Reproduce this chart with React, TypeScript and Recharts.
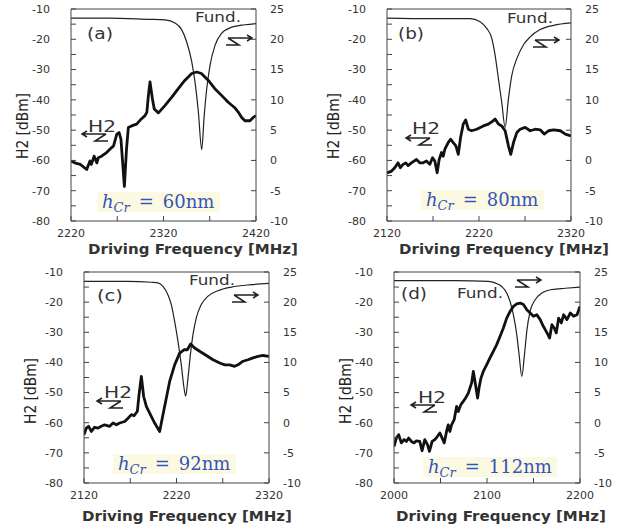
import React from 'react';
import { LineChart, Line, XAxis, YAxis, ReferenceLine } from 'recharts';

// (a) h_Cr = 60nm
const h2FreqA = [2220, 2224, 2230, 2237, 2240.5, 2242, 2245, 2248, 2249.5, 2253, 2258.5, 2262, 2266, 2269.5, 2272, 2274, 2277.7, 2280, 2282, 2285.5, 2291, 2296, 2300, 2302, 2303.5, 2305.4, 2308, 2310, 2314.5, 2321.5, 2329, 2336, 2343, 2350.5, 2356, 2361, 2368.5, 2375.5, 2383, 2390, 2397, 2401, 2404.5, 2408, 2413.5, 2417, 2420];
const h2A = [-60.2, -60.8, -61.3, -63, -60.2, -61.3, -58.6, -60.8, -59.1, -58.6, -57.4, -56.3, -55.2, -51.3, -50.8, -53, -68.6, -56.3, -49.1, -48.6, -48, -46.3, -45.2, -44.1, -39.1, -34.1, -39.6, -43, -44.3, -41.9, -39.1, -36.3, -33.6, -31.3, -30.8, -31.3, -33.6, -36.3, -38.6, -40.8, -42.6, -44.1, -45.8, -46.9, -46.9, -45.8, -45.2];
const fundFreqA = [2220, 2260, 2303.6, 2321.6, 2332.4, 2339.6, 2345, 2350.5, 2354, 2357.7, 2361.3, 2364, 2366.7, 2370.3, 2375.7, 2383, 2393.7, 2408, 2420];
const fundA = [23.5, 23.5, 23.3, 23.2, 22.7, 21.6, 19.6, 16.3, 13, 8, 1.8, 7.4, 11.8, 15.7, 19, 21, 22, 22.4, 22.6];

// (b) h_Cr = 80nm
const h2FreqB = [2120, 2124.7, 2128.4, 2132, 2134.5, 2137.5, 2140.4, 2142.9, 2146.5, 2152, 2155.6, 2159.3, 2162.9, 2166.5, 2169.5, 2172, 2174.5, 2176.7, 2179.3, 2181.1, 2182.9, 2186.5, 2189.1, 2192, 2194.9, 2197.5, 2200, 2202.9, 2205.5, 2208.4, 2212, 2217.5, 2224.7, 2230.2, 2235.6, 2237.5, 2241.1, 2244.7, 2248.4, 2252, 2254.5, 2257.5, 2261.1, 2264.7, 2270.2, 2275.6, 2281.1, 2286.5, 2290.9, 2295.6, 2301.1, 2308.4, 2313.8, 2320];
const h2B = [-64.1, -63.6, -62.4, -60.8, -62.4, -61.3, -60.8, -61.7, -60.8, -59.7, -60.8, -60.8, -60.2, -61.3, -59.1, -60.2, -64.1, -59.7, -57.4, -58.6, -56.3, -54.1, -53, -54.1, -55.2, -58, -52.4, -48, -46.6, -49.7, -50.2, -49.7, -48.6, -48, -46.9, -46.3, -48, -48.6, -50.2, -55.2, -58, -54.1, -50.8, -49.7, -49.1, -50.2, -49.7, -49.9, -51.3, -50.2, -49.9, -50.2, -51.3, -51.9];
const fundFreqB = [2120, 2166.5, 2210.2, 2221.1, 2228.4, 2233.8, 2237.5, 2241.1, 2244.7, 2248.4, 2252, 2255.6, 2261.1, 2268.4, 2275.6, 2286.5, 2301.1, 2320];
const fundB = [23.5, 23.4, 23.4, 22.9, 21.8, 20.2, 17.4, 13.5, 9.6, 5.5, 10.2, 14, 16.8, 19.1, 20.4, 21.6, 22.3, 22.7];

// (c) h_Cr = 92nm
const h2FreqC = [2120, 2122.5, 2125, 2127.9, 2131.5, 2135.1, 2138.7, 2142.3, 2147.7, 2151.4, 2155, 2158.6, 2164, 2167.6, 2171.2, 2174.1, 2177.7, 2179.5, 2182, 2184.5, 2187.4, 2191, 2196.4, 2201.8, 2205.4, 2209, 2212.6, 2218, 2223.4, 2228.1, 2231.7, 2235.3, 2239.6, 2245, 2252.3, 2259.5, 2266.7, 2272.1, 2277.5, 2282.9, 2286.5, 2291.9, 2297.3, 2302.7, 2308.1, 2313.5, 2320];
const h2C = [-64, -61.8, -61.2, -62.9, -61.5, -61.8, -61.2, -60.7, -61.2, -60.1, -60.7, -60.1, -59.6, -58.5, -57.3, -57.7, -56.2, -50.7, -44.6, -51.3, -54.6, -56.8, -60.1, -62.9, -57.3, -51.8, -46.3, -40.8, -36.9, -35.8, -35.8, -33.9, -35.2, -36.3, -37.7, -39.1, -40.2, -40.8, -40.8, -41.3, -40.8, -39.6, -39.1, -38.5, -38, -37.7, -38];
const fundFreqC = [2120, 2167.6, 2192.8, 2200, 2205.4, 2210.8, 2214.4, 2218, 2221.6, 2225.2, 2228.1, 2229.9, 2232.4, 2235, 2237.8, 2241.4, 2246.8, 2254.1, 2264.9, 2279.3, 2300.9, 2320];
const fundC = [23.45, 23.45, 23.3, 23.2, 22.6, 21.2, 19.6, 16.8, 13.5, 9.6, 5.8, 4.4, 7.4, 11.3, 14.6, 17.4, 19.6, 21, 21.9, 22.5, 22.9, 23.1];

// (d) h_Cr = 112nm
const h2FreqD = [2000, 2002.5, 2005, 2007.9, 2010.8, 2013.3, 2015.8, 2018.7, 2021.6, 2024.1, 2027.7, 2030.2, 2033.1, 2036, 2038.1, 2041, 2043.9, 2046.8, 2049.3, 2051.8, 2054, 2056.5, 2058.3, 2060.1, 2061.9, 2064.7, 2067.3, 2069.1, 2071.9, 2074.5, 2077, 2079.9, 2081.7, 2083.5, 2085.3, 2087.1, 2089.9, 2091.4, 2093.5, 2096, 2099.6, 2103.2, 2106.8, 2110.4, 2114, 2117.6, 2121.2, 2124.8, 2128.4, 2132, 2135.6, 2139.2, 2142.8, 2146.4, 2150, 2153.6, 2157.2, 2159.7, 2162.6, 2165.5, 2167.3, 2169.8, 2172.3, 2174.5, 2177, 2179.9, 2182.4, 2186, 2189.6, 2193.2, 2196.8, 2200];
const h2D = [-67.9, -65.1, -64, -66.7, -65.6, -66.2, -65.1, -66.2, -66.7, -66, -66.2, -69.3, -65.6, -67.3, -69.5, -66.2, -65.6, -64.5, -63.4, -65.1, -66.7, -62.9, -60.7, -62.9, -60.7, -59, -54.6, -56.3, -54, -52.9, -51.8, -50.2, -48.5, -46.8, -43, -46.3, -51.8, -48.5, -45.2, -43, -40.8, -38.5, -36.3, -34.1, -31.4, -28.6, -25.3, -23.1, -21.4, -20.6, -20.3, -20.8, -22.5, -23.6, -24.7, -24.2, -25.8, -27.5, -29.1, -30.8, -31.9, -27.5, -28.6, -30.2, -25.3, -26.9, -24.2, -25.8, -23.6, -24.7, -24.2, -21.4];
const fundFreqD = [2000, 2065.5, 2101.4, 2108.6, 2115.8, 2121.2, 2124.8, 2128.4, 2132, 2134.5, 2137.4, 2140.3, 2142.8, 2146.4, 2151.8, 2159, 2169.8, 2184.2, 2200];
const fundD = [23.56, 23.56, 23.45, 23.2, 22.6, 21.5, 20.1, 17.9, 14.6, 11.3, 7.7, 11.3, 15.2, 18.5, 20.4, 21.5, 22.1, 22.3, 22.5];

const leftTicks = [-80, -75, -70, -65, -60, -55, -50, -45, -40, -35, -30, -25, -20, -15, -10];
const rightTicks = [-10, -5, 0, 5, 10, 15, 20, 25];

const zip = (xs: number[], ys: number[]) => xs.map((f, i) => ({ f, v: ys[i] }));

const AXIS = '#444';
const TEXT = '#333';
const BLUE = '#3354b8';
const tickStyle = { fill: TEXT, fontSize: 11, fontFamily: 'DejaVu Sans' };

const panels = [
  { id: 'a', plot: { x: 71, y: 9, w: 185, h: 212 }, domain: [2220, 2420], h2: zip(h2FreqA, h2A), fund: zip(fundFreqA, fundA),
    tag: [100, 33], fundTxt: [218, 17], rArrow: [252, 38], lArrow: [82, 134], h2Txt: [102, 126],
    hcr: '60nm', hcrAt: [102, 202], hcrW: 123, yTitle: [23, 126], xTitle: [193, 249] },
  { id: 'b', plot: { x: 387, y: 9, w: 184, h: 212 }, domain: [2120, 2320], h2: zip(h2FreqB, h2B), fund: zip(fundFreqB, fundB),
    tag: [411, 33], fundTxt: [530, 18], rArrow: [559, 40], lArrow: [406, 138], h2Txt: [426, 128],
    hcr: '80nm', hcrAt: [426, 200], hcrW: 123, yTitle: [334, 126], xTitle: [504, 249] },
  { id: 'c', plot: { x: 84, y: 272, w: 185, h: 211 }, domain: [2120, 2320], h2: zip(h2FreqC, h2C), fund: zip(fundFreqC, fundC),
    tag: [110, 295], fundTxt: [212, 280], rArrow: [258, 295], lArrow: [97, 401], h2Txt: [118, 392],
    hcr: '92nm', hcrAt: [118, 464], hcrW: 123, yTitle: [31, 391], xTitle: [187, 516] },
  { id: 'd', plot: { x: 394, y: 272, w: 186, h: 211 }, domain: [2000, 2200], h2: zip(h2FreqD, h2D), fund: zip(fundFreqD, fundD),
    tag: [414, 293], fundTxt: [480, 293], rArrow: [541, 280], lArrow: [411, 405], h2Txt: [432, 397],
    hcr: '112nm', hcrAt: [428, 467], hcrW: 134, yTitle: [346, 391], xTitle: [501, 516] },
];

const LW = 60; // left axis width
const RW = 45; // right axis width
const XH = 30; // x axis height
const TOP = 10;

const Panel = ({ p }: { p: (typeof panels)[number] }) => {
  const [x0, x1] = p.domain;
  const step = (x1 - x0) / 4;
  const xTicks = [0, 1, 2, 3, 4].map((i) => x0 + i * step);
  return (
    <div style={{ position: 'absolute', left: p.plot.x - LW, top: p.plot.y - TOP }}>
      <LineChart width={p.plot.w + LW + RW} height={p.plot.h + TOP + XH} margin={{ top: TOP, right: 0, bottom: 0, left: 0 }}>
        <XAxis
          dataKey="f"
          type="number"
          domain={p.domain}
          allowDataOverflow
          ticks={xTicks}
          interval={0}
          height={XH}
          tickSize={-5}
          tickMargin={13}
          stroke={AXIS}
          tick={tickStyle}
          tickFormatter={(v: number) => ((v - x0) % 100 === 0 ? String(v) : '')}
        />
        <YAxis
          yAxisId="left"
          domain={[-80, -10]}
          ticks={leftTicks}
          interval={0}
          width={LW}
          tickSize={-5}
          tickMargin={26}
          stroke={AXIS}
          tick={tickStyle}
          tickFormatter={(v: number) => (v % 10 === 0 ? String(v) : '')}
        />
        <YAxis
          yAxisId="right"
          orientation="right"
          domain={[-10, 25]}
          ticks={rightTicks}
          interval={0}
          width={RW}
          tickSize={-5}
          tickMargin={19}
          stroke={AXIS}
          tick={{ ...tickStyle, textAnchor: 'start' }}
        />
        <ReferenceLine yAxisId="left" y={-10} stroke={AXIS} />
        <Line yAxisId="right" data={p.fund} dataKey="v" type="monotone" stroke="#222" strokeWidth={1.2} dot={false} isAnimationActive={false} />
        <Line yAxisId="left" data={p.h2} dataKey="v" type="linear" stroke="#111" strokeWidth={2.8} dot={false} isAnimationActive={false} strokeLinejoin="round" />
      </LineChart>
    </div>
  );
};

const LeftArrow = ({ x, y }: { x: number; y: number }) => (
  <path
    d={`M${x + 24},${y} L${x},${y} M${x + 5},${y - 3} L${x},${y} L${x + 5},${y + 3} M${x + 24},${y} L${x + 13},${y + 7} L${x + 26},${y + 7}`}
    stroke="#222" strokeWidth={1.5} fill="none"
  />
);

const RightArrow = ({ x, y }: { x: number; y: number }) => (
  <path
    d={`M${x - 24},${y} L${x},${y} M${x - 5},${y - 3} L${x},${y} L${x - 5},${y + 3} M${x - 24},${y} L${x - 13},${y + 7} L${x - 26},${y + 7}`}
    stroke="#222" strokeWidth={1.5} fill="none"
  />
);

const Notes = ({ p }: { p: (typeof panels)[number] }) => (
  <g>
    <text x={p.tag[0]} y={p.tag[1]} textAnchor="middle" dominantBaseline="central" fontSize={16} fill={TEXT} fontFamily="DejaVu Sans" textLength={26} lengthAdjust="spacingAndGlyphs">
      ({p.id})
    </text>
    <text x={p.fundTxt[0]} y={p.fundTxt[1]} textAnchor="middle" dominantBaseline="central" fontSize={14} fill={TEXT} fontFamily="DejaVu Sans" textLength={46} lengthAdjust="spacingAndGlyphs">
      Fund.
    </text>
    <RightArrow x={p.rArrow[0]} y={p.rArrow[1]} />
    <text x={p.h2Txt[0]} y={p.h2Txt[1]} textAnchor="middle" dominantBaseline="central" fontSize={16} fill={TEXT} fontFamily="DejaVu Sans" textLength={28} lengthAdjust="spacingAndGlyphs">
      H2
    </text>
    <LeftArrow x={p.lArrow[0]} y={p.lArrow[1]} />
    <rect x={p.hcrAt[0] - 5} y={p.hcrAt[1] - 10} width={p.hcrW} height={20} fill="#fcf9e3" />
    <text x={p.hcrAt[0]} y={p.hcrAt[1] + 6} fontSize={18} fill={BLUE} fontFamily="DejaVu Serif">
      <tspan fontStyle="italic">h</tspan>
      <tspan fontStyle="italic" fontSize={13} dy={4}>Cr</tspan>
      <tspan dy={-4} dx={9}>=</tspan>
      <tspan dx={9}>{p.hcr}</tspan>
    </text>
    <text
      x={p.yTitle[0]} y={p.yTitle[1]} textAnchor="middle" dominantBaseline="central" fontSize={15} fill="#222" fontFamily="DejaVu Sans"
      transform={`rotate(-90 ${p.yTitle[0]} ${p.yTitle[1]})`} textLength={66} lengthAdjust="spacingAndGlyphs"
    >
      H2 [dBm]
    </text>
    <text x={p.xTitle[0]} y={p.xTitle[1]} textAnchor="middle" dominantBaseline="central" fontSize={14} fontWeight="bold" fill="#333" fontFamily="DejaVu Sans" textLength={210} lengthAdjust="spacingAndGlyphs">
      Driving Frequency [MHz]
    </text>
  </g>
);

export default function App() {
  return (
    <div style={{ position: 'relative', width: 622, height: 527, background: '#fff', overflow: 'hidden' }}>
      <style>{'body{margin:0}'}</style>
      {panels.map((p) => (
        <Panel key={p.id} p={p} />
      ))}
      <svg width={622} height={527} style={{ position: 'absolute', left: 0, top: 0, pointerEvents: 'none' }}>
        {panels.map((p) => (
          <Notes key={p.id} p={p} />
        ))}
      </svg>
    </div>
  );
}
